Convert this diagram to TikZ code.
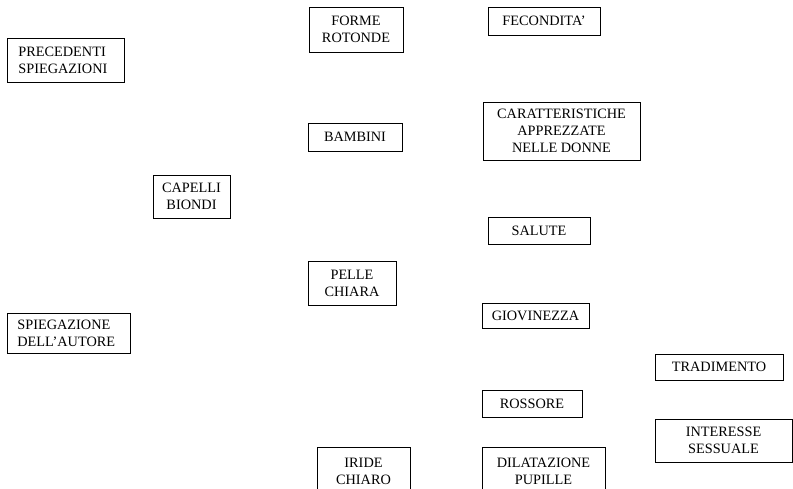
\documentclass[tikz,border=0pt]{standalone}
\usepackage{fontspec}
\setmainfont{Liberation Serif}
\begin{document}
\begin{tikzpicture}[x=1pt,y=-1pt,
  box/.style={draw=black, line width=0.8pt, align=center, inner sep=0pt,
    font=\fontsize{14.3}{17}\selectfont},
  lbox/.style={box, align=left, anchor=west}]
\useasboundingbox (0,0) rectangle (793,488);
\clip (0,0) rectangle (793,488);
\node[lbox, minimum width=117, minimum height=44, text width=95, inner xsep=11] (prec) at (7,60) {PRECEDENTI\\SPIEGAZIONI};
\node[lbox, minimum width=123, minimum height=40, text width=103, inner xsep=10] (spieg) at (7,333) {SPIEGAZIONE\\DELL'AUTORE};
\node[box, minimum width=77, minimum height=43] (cap) at (191.5,196.5) {CAPELLI\\BIONDI};
\node[box, minimum width=94, minimum height=45] (forme) at (356,29.5) {FORME\\ROTONDE};
\node[box, minimum width=94, minimum height=28] (bam) at (355,137) {BAMBINI};
\node[box, minimum width=88, minimum height=44] (pelle) at (352,283) {PELLE\\CHIARA};
\node[box, minimum width=93, minimum height=48] (iride) at (363.5,471) {IRIDE\\CHIARO};
\node[box, minimum width=112, minimum height=28] (fec) at (544,21) {FECONDITA'};
\node[box, minimum width=157, minimum height=58] (car) at (561.5,131) {CARATTERISTICHE\\APPREZZATE\\NELLE DONNE};
\node[box, minimum width=102, minimum height=27] (sal) at (539,230.5) {SALUTE};
\node[box, minimum width=107, minimum height=25] (giov) at (535.5,315.5) {GIOVINEZZA};
\node[box, minimum width=100, minimum height=27] (ross) at (532,403.5) {ROSSORE};
\node[box, minimum width=123, minimum height=48] (dil) at (543.5,471) {DILATAZIONE\\PUPILLE};
\node[box, minimum width=128, minimum height=26] (trad) at (719,367) {TRADIMENTO};
\node[box, minimum width=137, minimum height=43] (inter) at (723.5,440.5) {INTERESSE\\SESSUALE};
\end{tikzpicture}
\end{document}
